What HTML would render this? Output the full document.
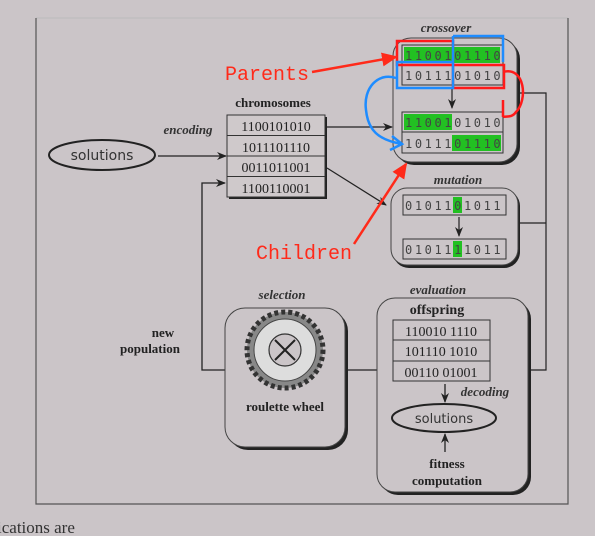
<!DOCTYPE html>
<html><head><meta charset="utf-8"><style>
html,body{margin:0;padding:0;background:#cbc5c8;}
svg{display:block;}
.s{font-family:"Liberation Serif",serif;fill:#222;}
.i{font-family:"Liberation Serif",serif;font-style:italic;font-weight:bold;fill:#333;}
.m{font-family:"DejaVu Sans Mono","Liberation Mono",monospace;fill:#444;font-size:12px;letter-spacing:2.6px;}
.sans{font-family:"DejaVu Sans","Liberation Sans",sans-serif;fill:#333;}
.r{font-family:"Liberation Mono",monospace;fill:#ff2a1a;font-size:20px;}
</style></head><body>
<svg width="595" height="536" viewBox="0 0 595 536" xmlns="http://www.w3.org/2000/svg">
<defs>
<marker id="a" markerWidth="10" markerHeight="8" refX="9" refY="4" orient="auto" markerUnits="userSpaceOnUse"><path d="M0,0 L10,4 L0,8 L3,4z" fill="#222"/></marker>
<marker id="ra" markerWidth="16" markerHeight="14" refX="14" refY="7" orient="auto" markerUnits="userSpaceOnUse"><path d="M0,0 L16,7 L0,14z" fill="#ff2a1a"/></marker>
</defs>
<rect width="595" height="536" fill="#cbc5c8"/>
<path d="M36,18 L568,18" stroke="#bbb" stroke-width="1" fill="none"/>
<path d="M36,18 L36,504 L568,504 L568,18" stroke="#555" stroke-width="1.2" fill="none"/>

<ellipse cx="102" cy="155" rx="53" ry="15" fill="none" stroke="#222" stroke-width="2"/>
<text x="102" y="160" class="sans" font-size="14" text-anchor="middle">solutions</text>
<text x="188" y="134" class="i" font-size="13" text-anchor="middle">encoding</text>
<line x1="158" y1="156" x2="226" y2="156" stroke="#222" stroke-width="1.3" marker-end="url(#a)"/>

<text x="273" y="107" class="s" font-size="13" font-weight="bold" text-anchor="middle">chromosomes</text>
<rect x="229" y="117" width="98" height="82" fill="#222"/>
<rect x="227" y="115" width="98" height="82" fill="#cfc9cb" stroke="#333" stroke-width="1"/>
<line x1="227" y1="135.5" x2="325" y2="135.5" stroke="#333"/>
<line x1="227" y1="156" x2="325" y2="156" stroke="#333"/>
<line x1="227" y1="176.5" x2="325" y2="176.5" stroke="#333"/>
<g class="s" font-size="14" text-anchor="middle">
<text x="276" y="131">1100101010</text>
<text x="276" y="152">1011101110</text>
<text x="276" y="172">0011011001</text>
<text x="276" y="193">1100110001</text>
</g>
<line x1="327" y1="127" x2="392" y2="127" stroke="#222" stroke-width="1.2" marker-end="url(#a)"/>
<line x1="327" y1="168" x2="386" y2="205" stroke="#222" stroke-width="1.2" marker-end="url(#a)"/>

<path d="M225,370 L202,370 L202,183 L225,183" stroke="#222" stroke-width="1.3" fill="none" marker-end="url(#a)"/>
<text x="163" y="337" class="s" font-size="13" font-weight="bold" text-anchor="middle">new</text>
<text x="150" y="353" class="s" font-size="13" font-weight="bold" text-anchor="middle">population</text>

<path d="M518,93 L546,93 L546,370 L528,370 M519,223 L546,223" stroke="#222" stroke-width="1.2" fill="none"/>
<line x1="345" y1="370" x2="377" y2="370" stroke="#222" stroke-width="1.2"/>

<text x="446" y="32" class="i" font-size="13" text-anchor="middle">crossover</text>
<rect x="396" y="41" width="124" height="124" rx="18" fill="#222"/>
<rect x="393" y="38" width="124" height="124" rx="18" fill="#cbc5c8" stroke="#444" stroke-width="1"/>
<rect x="402" y="45" width="101" height="40" fill="none" stroke="#333"/>
<line x1="402" y1="65" x2="503" y2="65" stroke="#333"/>
<rect x="404" y="47" width="96" height="16" fill="#22c022"/>
<text x="405" y="60" class="m">1100101110</text>
<text x="405" y="80" class="m">1011101010</text>
<line x1="452" y1="88" x2="452" y2="108" stroke="#222" stroke-width="1.2" marker-end="url(#a)"/>
<rect x="402" y="112" width="101" height="41" fill="none" stroke="#333"/>
<line x1="402" y1="132" x2="503" y2="132" stroke="#333"/>
<rect x="404" y="114" width="48" height="16" fill="#22c022"/>
<rect x="452" y="135" width="49" height="16" fill="#22c022"/>
<text x="405" y="127" class="m">1100101010</text>
<text x="405" y="148" class="m">1011101110</text>

<text x="458" y="184" class="i" font-size="13" text-anchor="middle">mutation</text>
<rect x="393" y="190" width="127" height="78" rx="16" fill="#222"/>
<rect x="391" y="188" width="127" height="77" rx="16" fill="#cbc5c8" stroke="#444" stroke-width="1"/>
<rect x="403" y="195" width="103" height="20" fill="none" stroke="#333"/>
<rect x="453" y="197" width="9" height="16" fill="#22c022"/>
<text x="405" y="210" class="m">0101101011</text>
<line x1="459" y1="217" x2="459" y2="236" stroke="#222" stroke-width="1.2" marker-end="url(#a)"/>
<rect x="403" y="239" width="103" height="20" fill="none" stroke="#333"/>
<rect x="453" y="241" width="9" height="16" fill="#22c022"/>
<text x="405" y="254" class="m">0101111011</text>

<text x="282" y="299" class="i" font-size="13" text-anchor="middle">selection</text>
<rect x="228" y="311" width="120" height="139" rx="20" fill="#222"/>
<rect x="225" y="308" width="120" height="139" rx="20" fill="#cbc5c8" stroke="#444" stroke-width="1"/>
<circle cx="285" cy="350" r="38" fill="#888"/>
<circle cx="285" cy="350" r="38" fill="none" stroke="#333" stroke-width="5" stroke-dasharray="4 3"/>
<circle cx="285" cy="350" r="31" fill="#ddd" stroke="#444"/>
<circle cx="285" cy="350" r="16" fill="#cbc5c8" stroke="#333" stroke-width="1.2"/>
<path d="M275,340 L295,360 M295,340 L275,360" stroke="#222" stroke-width="2"/>
<text x="285" y="411" class="s" font-size="13" font-weight="bold" text-anchor="middle">roulette wheel</text>

<text x="438" y="294" class="i" font-size="13" text-anchor="middle">evaluation</text>
<rect x="380" y="301" width="151" height="194" rx="18" fill="#222"/>
<rect x="377" y="298" width="151" height="194" rx="18" fill="#cbc5c8" stroke="#444" stroke-width="1"/>
<text x="437" y="314" class="s" font-size="14" font-weight="bold" text-anchor="middle">offspring</text>
<rect x="393" y="320" width="97" height="61" fill="none" stroke="#333"/>
<line x1="393" y1="340" x2="490" y2="340" stroke="#333"/>
<line x1="393" y1="361" x2="490" y2="361" stroke="#333"/>
<g class="s" font-size="14" text-anchor="middle">
<text x="441" y="336">110010 1110</text>
<text x="441" y="356">101110 1010</text>
<text x="441" y="377">00110 01001</text>
</g>
<line x1="445" y1="384" x2="445" y2="402" stroke="#222" stroke-width="1.3" marker-end="url(#a)"/>
<text x="485" y="396" class="i" font-size="13" text-anchor="middle">decoding</text>
<ellipse cx="444" cy="418" rx="52" ry="14" fill="none" stroke="#222" stroke-width="2"/>
<text x="444" y="423" class="sans" font-size="13" text-anchor="middle">solutions</text>
<line x1="445" y1="452" x2="445" y2="434" stroke="#222" stroke-width="1.3" marker-end="url(#a)"/>
<text x="447" y="468" class="s" font-size="13" font-weight="bold" text-anchor="middle">fitness</text>
<text x="447" y="485" class="s" font-size="13" font-weight="bold" text-anchor="middle">computation</text>

<path d="M397,41 L453,41 L453,65 L504,65 L504,88 L453,88 L453,65 L397,65 Z" fill="none" stroke="#ff1a1a" stroke-width="2.5"/>
<path d="M453,36 L503,36 L503,62 M453,36 L453,62 M397,62 L453,62 L453,88 L397,88 Z" fill="none" stroke="#1e8cff" stroke-width="2.5"/>
<path d="M503,72 C525,66 528,100 516,112 C512,118 506,116 503,117 M503,100 L503,117" fill="none" stroke="#ff1a1a" stroke-width="2.5"/>
<path d="M396,78 C378,72 363,88 366,110 C368,130 378,140 402,144 M392,136 L402,144 L390,150" fill="none" stroke="#1e8cff" stroke-width="2.5"/>
<text x="225" y="80" class="r">Parents</text>
<line x1="312" y1="72" x2="396" y2="57" stroke="#ff2a1a" stroke-width="2.5" marker-end="url(#ra)"/>
<text x="256" y="259" class="r">Children</text>
<line x1="354" y1="244" x2="406" y2="164" stroke="#ff2a1a" stroke-width="2.5" marker-end="url(#ra)"/>

<text x="-3" y="533" font-family="Liberation Serif, serif" font-size="17" fill="#333">ications are</text>
</svg>
</body></html>
